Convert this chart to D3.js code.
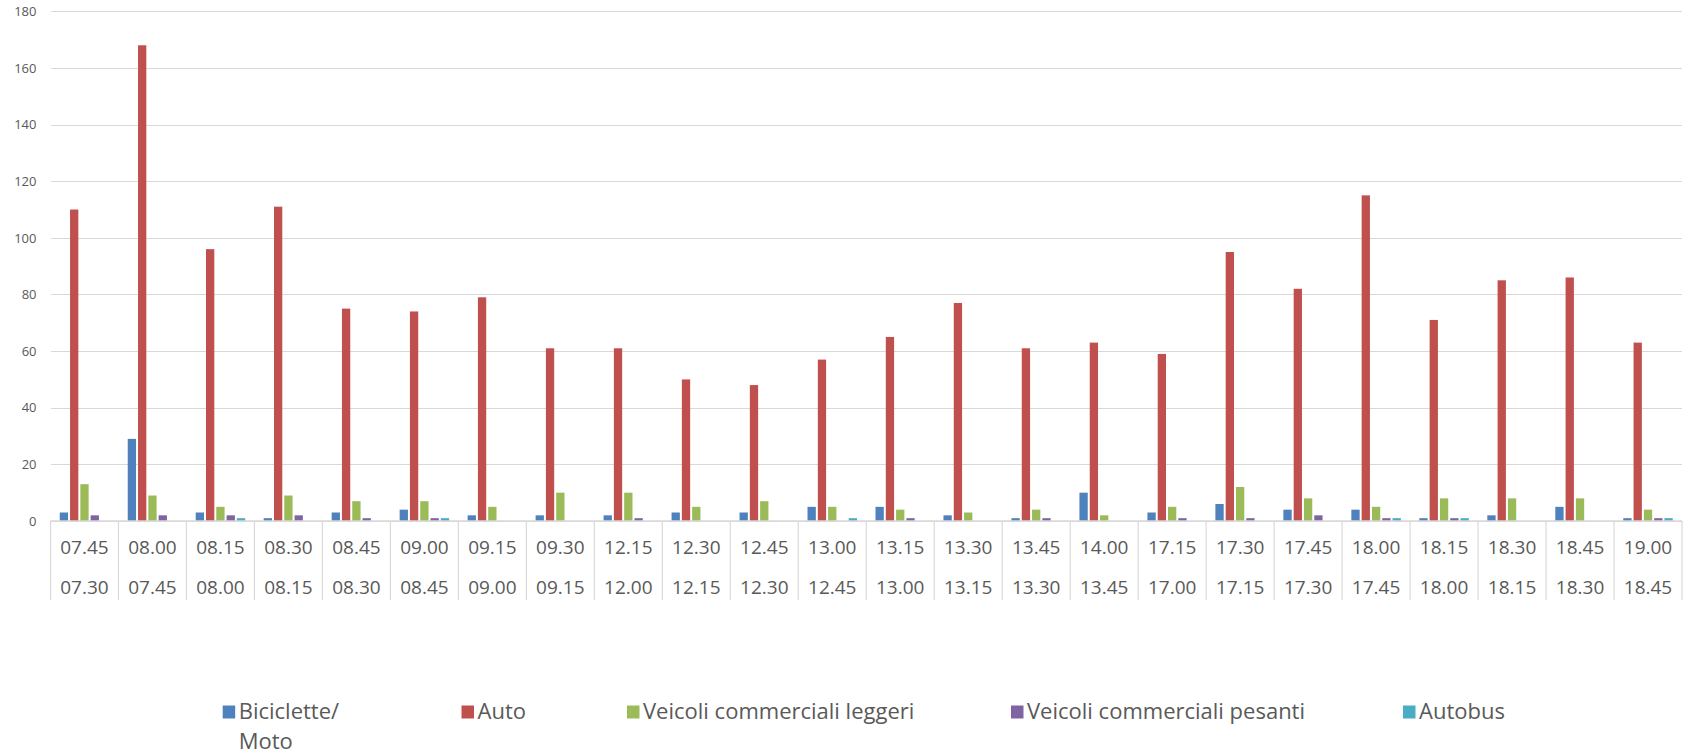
<!DOCTYPE html>
<html>
<head>
<meta charset="utf-8">
<script src="https://cdn.jsdelivr.net/npm/d3@7/dist/d3.min.js"></script>
<style>
  html, body { margin: 0; padding: 0; background: #fff; }
  svg { display: block; }
  text { font-family: "Open Sans", sans-serif; fill: #595959; }
</style>
</head>
<body>
<svg id="chart" width="1683" height="753"></svg>
<script>
const timeTo = ["07.45","08.00","08.15","08.30","08.45","09.00","09.15","09.30","12.15","12.30","12.45","13.00","13.15","13.30","13.45","14.00","17.15","17.30","17.45","18.00","18.15","18.30","18.45","19.00"];
const timeFrom = ["07.30","07.45","08.00","08.15","08.30","08.45","09.00","09.15","12.00","12.15","12.30","12.45","13.00","13.15","13.30","13.45","17.00","17.15","17.30","17.45","18.00","18.15","18.30","18.45"];

const seriesNames = ["Biciclette/ Moto", "Auto", "Veicoli commerciali leggeri", "Veicoli commerciali pesanti", "Autobus"];
const bici     = [3,29,3,1,3,4,2,2,2,3,3,5,5,2,1,10,3,6,4,4,1,2,5,1];
const auto     = [110,168,96,111,75,74,79,61,61,50,48,57,65,77,61,63,59,95,82,115,71,85,86,63];
const leggeri  = [13,9,5,9,7,7,5,10,10,5,7,5,4,3,4,2,5,12,8,5,8,8,8,4];
const pesanti  = [2,2,2,2,1,1,0,0,1,0,0,0,1,0,1,0,1,1,2,1,1,0,0,1];
const autobus  = [0,0,1,0,0,1,0,0,0,0,0,1,0,0,0,0,0,0,0,1,1,0,0,1];
const yTicks = [0,20,40,60,80,100,120,140,160,180];

const colors = ["#4F81BD","#C0504D","#9BBB59","#8064A2","#4BACC6"];
const seriesValues = [bici, auto, leggeri, pesanti, autobus];

const svg = d3.select("#chart");
const plotLeft = 50.5, plotRight = 1682, plotTop = 11.3, plotBottom = 521;

const x = d3.scaleBand().domain(d3.range(timeTo.length)).range([plotLeft, plotRight]).paddingInner(0).paddingOuter(0);
const bw = x.bandwidth();
const pad = 8.25;
const xs = d3.scaleBand().domain(d3.range(seriesNames.length)).range([pad, bw - pad]).padding(0);
const y = d3.scaleLinear().domain([0, 180]).range([plotBottom, plotTop]);

// gridlines
const yAxis = d3.axisLeft(y).tickValues(yTicks).tickSize(-(plotRight - plotLeft)).tickPadding(14);
const gy = svg.append("g").attr("transform", `translate(${plotLeft},0)`).call(yAxis);
gy.select(".domain").remove();
gy.selectAll(".tick line").attr("stroke", "#D9D9D9").attr("stroke-width", 1)
  .attr("shape-rendering", "crispEdges");
gy.selectAll(".tick text").style("font-size", "13px").style("font-family", "'Open Sans', sans-serif")
  .attr("fill", "#595959").attr("x", -14);

// bars
seriesValues.forEach((vals, s) => {
  svg.append("g").selectAll("rect").data(vals).join("rect")
    .attr("x", (d, i) => x(i) + xs(s) + 1)
    .attr("width", xs.bandwidth() - 2)
    .attr("y", d => y(d))
    .attr("height", d => y(0) - y(d))
    .attr("fill", colors[s]);
});

// category axis line and dividers
svg.append("line").attr("x1", plotLeft).attr("x2", plotRight).attr("y1", plotBottom).attr("y2", plotBottom)
  .attr("stroke", "#D9D9D9").attr("stroke-width", 1.5);
const divs = d3.range(timeTo.length + 1).map(i => i < timeTo.length ? x(i) : plotRight);
svg.append("g").selectAll("line").data(divs).join("line")
  .attr("x1", d => d).attr("x2", d => d).attr("y1", plotBottom).attr("y2", 600)
  .attr("stroke", "#D9D9D9").attr("stroke-width", 1.2);

// category labels
const gl = svg.append("g");
gl.selectAll("text.to").data(timeTo).join("text").attr("class", "to")
  .attr("x", (d, i) => x(i) + bw / 2).attr("y", 554.3)
  .attr("text-anchor", "middle").style("font-size", "19px").text(d => d);
gl.selectAll("text.from").data(timeFrom).join("text").attr("class", "from")
  .attr("x", (d, i) => x(i) + bw / 2).attr("y", 593.7)
  .attr("text-anchor", "middle").style("font-size", "19px").text(d => d);

// legend
const legendX = [222.7, 461.5, 627, 1011, 1403];
const legendLines = [["Biciclette/", "Moto"], ["Auto"], ["Veicoli commerciali leggeri"], ["Veicoli commerciali pesanti"], ["Autobus"]];
const lg = svg.append("g");
seriesNames.forEach((n, s) => {
  lg.append("rect").attr("x", legendX[s]).attr("y", 705.5).attr("width", 12.5).attr("height", 13).attr("fill", colors[s]);
  const t = lg.append("text").attr("x", legendX[s] + 16).attr("y", 718.5).style("font-size", "22px");
  legendLines[s].forEach((l, k) => {
    t.append("tspan").attr("x", legendX[s] + 16).attr("dy", k === 0 ? 0 : 30).text(l);
  });
});
</script>
</body>
</html>
